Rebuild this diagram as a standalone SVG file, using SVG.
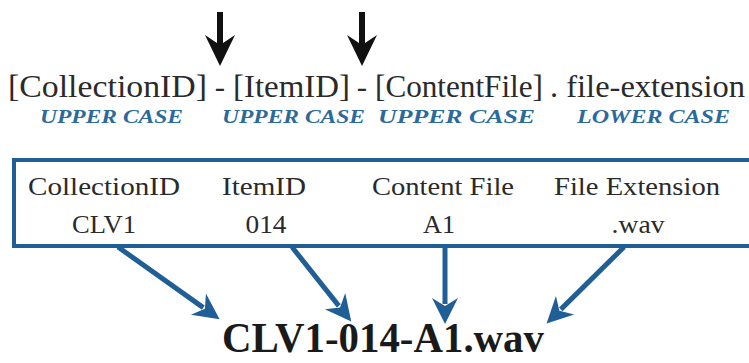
<svg xmlns="http://www.w3.org/2000/svg" width="749" height="363" viewBox="0 0 749 363">
<style>
.t{font-family:"Liberation Serif",serif;font-size:31px;fill:#2a2a2a}
.lbl{font-family:"Liberation Serif",serif;font-weight:bold;font-style:italic;font-size:18px;fill:#2a6a9c}
.cell{font-family:"Liberation Serif",serif;font-size:25px;fill:#2a2a2a;text-anchor:middle}
.blue{stroke:#1f5f96;stroke-width:5;fill:none}
.blk{stroke:#111;stroke-width:6}
</style>
<defs>
<marker id="bh" markerUnits="userSpaceOnUse" markerWidth="40" markerHeight="40" refX="0" refY="0" viewBox="-10 -20 40 40" orient="auto" overflow="visible">
<path d="M20,0 L-6,-13 L2,0 L-6,13 Z" fill="#1f5f96"/>
</marker>
</defs>
<rect width="749" height="363" fill="#ffffff"/>
<g id="pattern">
<text class="t" x="8" y="97" textLength="199" lengthAdjust="spacingAndGlyphs">[CollectionID]</text>
<text class="t" x="220" y="97" text-anchor="middle">-</text>
<text class="t" x="233" y="97" textLength="117" lengthAdjust="spacingAndGlyphs">[ItemID]</text>
<text class="t" x="362" y="97" text-anchor="middle">-</text>
<text class="t" x="375" y="97" textLength="168" lengthAdjust="spacingAndGlyphs">[ContentFile]</text>
<text class="t" x="550" y="97" textLength="195" lengthAdjust="spacingAndGlyphs">. file-extension</text>
</g>
<g id="case-labels">
<text class="lbl" x="40" y="123" textLength="143" lengthAdjust="spacingAndGlyphs">UPPER CASE</text>
<text class="lbl" x="222" y="123" textLength="143" lengthAdjust="spacingAndGlyphs">UPPER CASE</text>
<text class="lbl" x="378" y="123" textLength="157" lengthAdjust="spacingAndGlyphs">UPPER CASE</text>
<text class="lbl" x="577" y="123" textLength="153" lengthAdjust="spacingAndGlyphs">LOWER CASE</text>
</g>
<g id="separator-arrows">
<line class="blk" x1="220" y1="12" x2="220" y2="46"/>
<path d="M220,66 L205,35 L220,45 L235,35 Z" fill="#111"/>
<line class="blk" x1="362" y1="12" x2="362" y2="46"/>
<path d="M362,66 L347,35 L362,45 L377,35 Z" fill="#111"/>
</g>
<g id="table">
<rect x="14" y="160" width="760" height="86" fill="#ffffff" stroke="#1f5f96" stroke-width="4"/>
<text class="cell" x="104" y="195" textLength="152" lengthAdjust="spacingAndGlyphs">CollectionID</text>
<text class="cell" x="264" y="195" textLength="84" lengthAdjust="spacingAndGlyphs">ItemID</text>
<text class="cell" x="443" y="195" textLength="142" lengthAdjust="spacingAndGlyphs">Content File</text>
<text class="cell" x="637" y="195" textLength="166" lengthAdjust="spacingAndGlyphs">File Extension</text>
<text class="cell" x="104" y="233" textLength="64" lengthAdjust="spacingAndGlyphs">CLV1</text>
<text class="cell" x="266" y="233" textLength="41" lengthAdjust="spacingAndGlyphs">014</text>
<text class="cell" x="439" y="233" textLength="32" lengthAdjust="spacingAndGlyphs">A1</text>
<text class="cell" x="638" y="233" textLength="53" lengthAdjust="spacingAndGlyphs">.wav</text>
</g>
<g id="connectors">
<line class="blue" x1="118" y1="247" x2="203.3" y2="307.6" marker-end="url(#bh)"/>
<line class="blue" x1="292" y1="247" x2="338.8" y2="305.9" marker-end="url(#bh)"/>
<line class="blue" x1="445" y1="247" x2="445" y2="304" marker-end="url(#bh)"/>
<line class="blue" x1="624" y1="247" x2="560.8" y2="309.4" marker-end="url(#bh)"/>
</g>
<g id="result">
<text x="383" y="352" font-family="Liberation Serif, serif" font-weight="bold" font-size="42" fill="#1a1a1a" text-anchor="middle" textLength="322" lengthAdjust="spacingAndGlyphs">CLV1-014-A1.wav</text>
</g>
</svg>
